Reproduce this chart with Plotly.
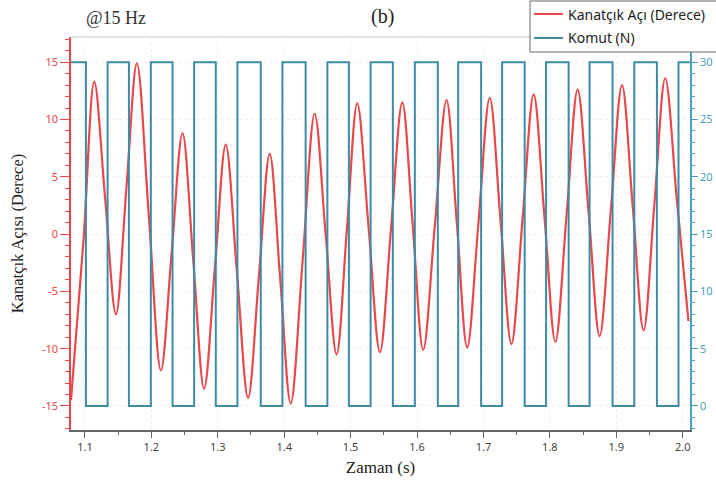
import plotly.graph_objects as go

# Kanatçık açısı (derece): extrema and mid-crossings
resp_t = [1.079, 1.098, 1.114, 1.1303, 1.1466, 1.1624, 1.1782, 1.1963, 1.2143, 1.2306,
          1.2469, 1.2632, 1.2794, 1.2957, 1.3120, 1.3288, 1.3456, 1.3619, 1.3782, 1.3940,
          1.4098, 1.4279, 1.4459, 1.4624, 1.4789, 1.4945, 1.5100, 1.5271, 1.5441, 1.5610,
          1.5778, 1.5936, 1.6093, 1.6269, 1.6444, 1.6600, 1.6755, 1.6925, 1.7095, 1.7258,
          1.7421, 1.7589, 1.7756, 1.7920, 1.8083, 1.8251, 1.8418, 1.8584, 1.8749, 1.8918,
          1.9086, 1.9249, 1.9411, 1.9574, 1.9737, 1.9912, 2.0087]
resp_deg = [-14.5, -0.4, 13.3, 3.2, -7.0, 4.0, 14.9, 1.5, -11.9, -1.6,
            8.8, -2.4, -13.5, -2.9, 7.8, -3.3, -14.3, -3.7, 7.0, -3.9,
            -14.8, -2.2, 10.5, 0.0, -10.5, 0.5, 11.4, 0.55, -10.3, 0.6,
            11.5, 0.7, -10.1, 0.8, 11.7, 0.9, -9.9, 1.0, 11.9, 1.15,
            -9.6, 1.3, 12.2, 1.4, -9.4, 1.6, 12.6, 1.85, -8.9, 2.05,
            13.0, 2.3, -8.4, 2.6, 13.6, 3.0, -7.6]

# Komut (N) square wave: switching times and levels
cmd_t = [1.075, 1.1015, 1.1341, 1.1662, 1.1992, 1.2319, 1.2644, 1.2970, 1.3296, 1.3647,
         1.3973, 1.4323, 1.4650, 1.4974, 1.5301, 1.5636, 1.5967, 1.6313, 1.6620, 1.6965,
         1.7281, 1.7621, 1.7943, 1.8283, 1.8598, 1.8944, 1.9271, 1.9612, 1.9937, 2.015]
cmd_n = [30, 0, 30, 0, 30, 0, 30, 0, 30, 0,
         30, 0, 30, 0, 30, 0, 30, 0, 30, 0,
         30, 0, 30, 0, 30, 0, 30, 0, 30, 30]

series_names = ["Kanatçık Açı (Derece)", "Komut (N)"]
x_ticks = [1.1, 1.2, 1.3, 1.4, 1.5, 1.6, 1.7, 1.8, 1.9, 2.0]
left_ticks = [-15, -10, -5, 0, 5, 10, 15]
right_ticks = [0, 5, 10, 15, 20, 25, 30]

RED = "#e8474c"
TEAL = "#3d8ba5"
TEAL_LBL = "#4aa0b5"
SANS = "Noto Sans, DejaVu Sans, sans-serif"
SERIF = "Liberation Serif, Times New Roman, serif"

W, H = 716, 488
ML, MR, MT, MB = 71, 26, 37, 58
PW, PH = W - ML - MR, H - MT - MB


def px_to_paper(px, py):
    return (px - ML) / PW, (H - MB - py) / PH


fig = go.Figure()
fig.add_trace(go.Scatter(x=resp_t, y=resp_deg, mode="lines", name=series_names[0],
                         line=dict(color=RED, width=2.2, shape="spline", smoothing=1.0),
                         yaxis="y", showlegend=False))
fig.add_trace(go.Scatter(x=cmd_t, y=cmd_n, mode="lines", name=series_names[1],
                         line=dict(color=TEAL, width=2, shape="hv"), yaxis="y2",
                         showlegend=False))

# manual legend box (partly cut by the figure edge, as in the reference)
shapes = [dict(type="line", xref="paper", yref="paper", x0=0, x1=1, y0=1, y1=1,
               line=dict(color="#d8d8d8", width=1.5))]
annotations = []
bx0, by0 = px_to_paper(530, 52)
bx1, by1 = px_to_paper(730, 1)
shapes.append(dict(type="rect", xref="paper", yref="paper", x0=bx0, x1=bx1, y0=by0, y1=by1,
                   line=dict(color="#666", width=1), fillcolor="white", layer="above"))
for i, (nm, col) in enumerate(zip(series_names, [RED, TEAL])):
    yy = 14 + 24 * i
    lx0, ly = px_to_paper(534, yy)
    lx1, _ = px_to_paper(563, yy)
    shapes.append(dict(type="line", xref="paper", yref="paper", x0=lx0, x1=lx1, y0=ly, y1=ly,
                       line=dict(color=col, width=2), layer="above"))
    tx, _ = px_to_paper(566, yy)
    annotations.append(dict(text=nm, xref="paper", yref="paper", x=tx, y=ly,
                            xanchor="left", yanchor="middle", showarrow=False,
                            font=dict(family=SANS, size=14, color="#222")))

annotations += [
    dict(text="@15 Hz", xref="paper", yref="paper", x=px_to_paper(84, 0)[0], y=px_to_paper(0, 18)[1],
         xanchor="left", yanchor="middle", showarrow=False,
         font=dict(family=SERIF, size=18, color="#333")),
    dict(text="(b)", xref="paper", yref="paper", x=px_to_paper(382, 0)[0], y=px_to_paper(0, 17)[1],
         xanchor="center", yanchor="middle", showarrow=False,
         font=dict(family=SERIF, size=20, color="#222")),
]

fig.update_layout(
    width=W, height=H,
    margin=dict(l=ML, r=MR, t=MT, b=MB),
    paper_bgcolor="white", plot_bgcolor="white",
    showlegend=False,
    xaxis=dict(range=[1.079, 2.011], tickvals=x_ticks, ticktext=[f"{v:.1f}" for v in x_ticks],
               automargin=False,
               showline=True, linecolor="#666", linewidth=1.5,
               ticks="outside", ticklen=6, tickcolor="#666",
               minor=dict(dtick=0.05, tick0=1.1, ticks="outside", ticklen=3, tickcolor="#666", showgrid=False),
               showgrid=True, gridcolor="#eeeeee", griddash="dot", zeroline=False,
               tickfont=dict(family=SANS, size=11, color="#444"),
               title=dict(text="Zaman (s)", font=dict(family=SERIF, size=17, color="#222"), standoff=8)),
    yaxis=dict(range=[-17.1, 17.2], tickvals=left_ticks, ticktext=[str(v) for v in left_ticks],
               automargin=False,
               showline=True, linecolor=RED, linewidth=1.5,
               ticks="outside", ticklen=9, tickcolor=RED,
               minor=dict(dtick=1, tick0=0, ticks="outside", ticklen=4, tickcolor=RED, showgrid=False),
               showgrid=True, gridcolor="#eeeeee", griddash="dot", zeroline=False,
               tickfont=dict(family=SANS, size=11, color=RED),
               title=dict(text="Kanatçık Açısı (Derece)", font=dict(family=SERIF, size=16.5, color="#222"), standoff=14)),
    yaxis2=dict(range=[-2.1, 32.2], tickvals=right_ticks, ticktext=[str(v) for v in right_ticks],
                automargin=False,
                overlaying="y", side="right", anchor="x",
                showline=True, linecolor=TEAL_LBL, linewidth=1.5,
                ticks="outside", ticklen=6, tickcolor=TEAL_LBL,
                minor=dict(dtick=1, tick0=0, ticks="outside", ticklen=3, tickcolor=TEAL_LBL, showgrid=False),
                showgrid=False, zeroline=False,
                tickfont=dict(family=SANS, size=11, color=TEAL_LBL)),
    annotations=annotations,
    shapes=shapes,
)

fig.write_html("out.html", config={"displayModeBar": False},
               post_script="document.body.style.margin='0';")
